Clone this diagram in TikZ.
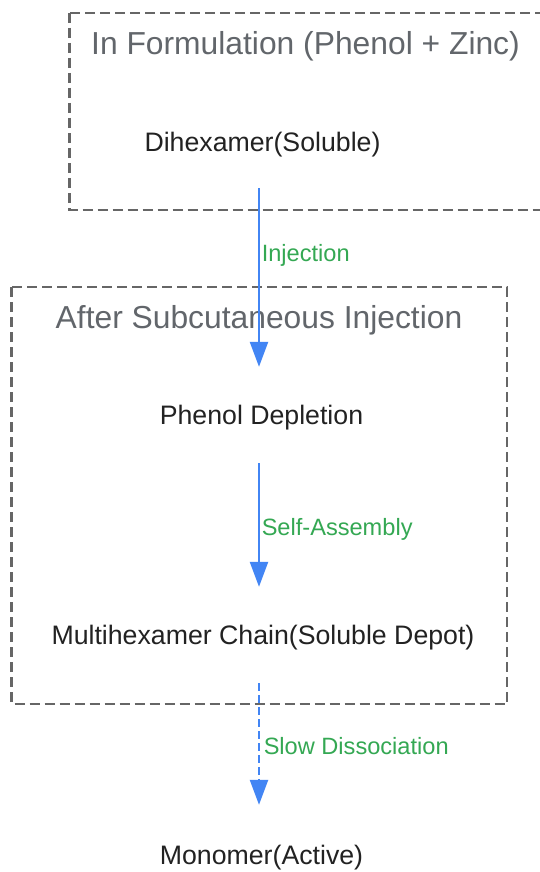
\documentclass[tikz,border=0pt]{standalone}
\usepackage{fontspec}
\setmainfont{Liberation Sans}
\usetikzlibrary{arrows.meta}
\definecolor{boxgray}{HTML}{666666}
\definecolor{titlegray}{HTML}{62666B}
\definecolor{flowblue}{HTML}{4285F4}
\definecolor{labgreen}{HTML}{34A853}
\definecolor{txt}{HTML}{222222}
\begin{document}
\begin{tikzpicture}[x=1pt,y=-1pt,
  cluster/.style={draw=boxgray, line width=2.8pt, dash pattern=on 10pt off 5pt},
  clustertitle/.style={text=titlegray, font=\fontsize{31.8}{36}\selectfont, inner sep=0pt, text height=22.8pt, text depth=0pt},
  item/.style={text=txt, font=\fontsize{26.7}{30}\selectfont, minimum height=96pt, inner sep=0pt, text height=19.1pt, text depth=0pt},
  flow/.style={draw=flowblue, line width=2.5pt, -{Triangle[length=25pt,width=18pt]}},
  flowdash/.style={flow, dash pattern=on 8pt off 4pt},
  elabel/.style={text=labgreen, font=\fontsize{23.6}{27}\selectfont, inner sep=0pt, anchor=west, xshift=1.5pt, text height=16.9pt, text depth=0pt}
]
\useasboundingbox (0,0) rectangle (540,872);
\fill[white] (0,0) rectangle (540,872);
% clusters
\draw[cluster] (69.5,13) rectangle (545,210);
\node[clustertitle] (t1) at (305.5,43) {In Formulation (Phenol + Zinc)};
\draw[cluster] (11.5,287) rectangle (507,704);
\node[clustertitle] (t2) at (259,317.5) {After Subcutaneous Injection};
% nodes
\node[item] (a) at (262.5,141.5) {Dihexamer(Soluble)};
\node[item] (b) at (261.5,415) {Phenol Depletion};
\node[item] (c) at (263,635) {Multihexamer Chain(Soluble Depot)};
\node[item] (d) at (261.5,855) {Monomer(Active)};
% edges
\draw[flow] ([xshift=-3.5pt,yshift=1.5pt]a.south) -- ([xshift=-2.5pt]b.north) node[elabel, pos=0.365] {Injection};
\draw[flow] ([xshift=-2.5pt]b.south) -- ([xshift=-4pt]c.north) node[elabel, pos=0.516] {Self-Assembly};
\draw[flowdash] ([xshift=-4pt]c.south) -- ([xshift=-2.5pt,yshift=2pt]d.north) node[elabel, pos=0.515, xshift=2pt] {Slow Dissociation};
\end{tikzpicture}
\end{document}
